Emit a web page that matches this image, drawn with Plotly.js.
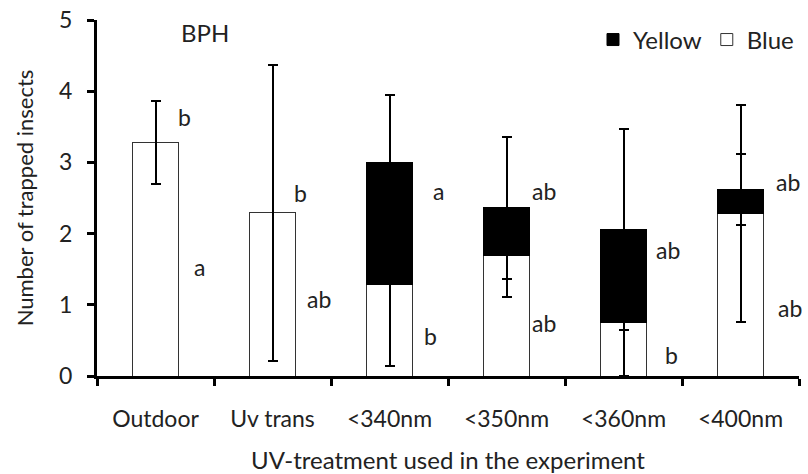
<!DOCTYPE html>
<html>
<head>
<meta charset="utf-8">
<script src="https://cdn.plot.ly/plotly-3.0.1.min.js"></script>
<style>html,body{margin:0;padding:0;background:#fff;}#chart{width:808px;height:474px;}</style>
</head>
<body>
<div id="chart"></div>
<script>
// ---- data ----
const categories = ['Outdoor', 'Uv trans', '<340nm', '<350nm', '<360nm', '<400nm'];
const blueValues = [3.28, 2.29, 1.29, 1.69, 0.75, 2.28];
const blueErrors = [0.58, 2.08, 1.15, 0.58, 0.75, 1.52];
const yellowValues = [null, null, 1.71, 0.67, 1.31, 0.34];
const yellowErrors = [null, null, 0.94, 1.0, 1.41, 0.5];
const upperLetters = ['b', 'b', 'a', 'ab', 'ab', 'ab'];
const lowerLetters = ['a', 'ab', 'b', 'ab', 'b', 'ab'];
const yTicks = [0, 1, 2, 3, 4, 5];

// ---- label placement (layout only) ----
const upperPos = [[0.25, 3.64], [0.24, 2.57], [0.42, 2.60], [0.32, 2.60], [0.38, 1.77], [0.41, 2.73]];
const lowerPos = [[0.38, 1.53], [0.40, 1.08], [0.35, 0.56], [0.32, 0.75], [0.41, 0.29], [0.42, 0.95]];

const FONT = 'Lato, "Open Sans", sans-serif';
const TXT = '#222';

const blueTrace = {
  type: 'bar', name: 'Blue', x: categories, y: blueValues,
  marker: {color: '#ffffff', line: {color: '#333', width: 1}},
  error_y: {type: 'data', array: blueErrors, visible: true, color: '#000', thickness: 2, width: 5}
};
const yellowTrace = {
  type: 'bar', name: 'Yellow', x: categories, y: yellowValues,
  marker: {color: '#000000', line: {color: '#000', width: 1}},
  error_y: {type: 'data', array: yellowErrors, visible: true, color: '#000', thickness: 2, width: 5}
};

const annotations = [];
categories.forEach((c, i) => {
  annotations.push({x: i + upperPos[i][0], y: upperPos[i][1], xref: 'x', yref: 'y', text: upperLetters[i],
    showarrow: false, xanchor: 'center', yanchor: 'middle', font: {family: FONT, size: 23, color: TXT}});
  annotations.push({x: i + lowerPos[i][0], y: lowerPos[i][1], xref: 'x', yref: 'y', text: lowerLetters[i],
    showarrow: false, xanchor: 'center', yanchor: 'middle', font: {family: FONT, size: 23, color: TXT}});
});
annotations.push({x: 0.154, y: 4.83, xref: 'paper', yref: 'y', text: 'BPH', showarrow: false,
  xanchor: 'center', yanchor: 'middle', font: {family: FONT, size: 24, color: TXT}});

const layout = {
  width: 808, height: 474,
  margin: {l: 97, r: 9, t: 20, b: 98},
  paper_bgcolor: '#fff', plot_bgcolor: '#fff',
  barmode: 'stack', bargap: 0.607,
  showlegend: true,
  legend: {orientation: 'h', traceorder: 'reversed', x: 1.0, xanchor: 'right', y: 0.944, yanchor: 'middle',
    font: {family: FONT, size: 24, color: TXT}, bgcolor: 'rgba(0,0,0,0)', itemwidth: 30},
  font: {family: FONT, color: TXT},
  xaxis: {
    type: 'category', range: [-0.5, 5.5], showgrid: false, zeroline: false,
    showline: true, linecolor: '#000', linewidth: 3,
    ticks: 'outside', tickson: 'boundaries', ticklen: 7, tickwidth: 3, tickcolor: '#000',
    ticklabelstandoff: 20,
    tickfont: {family: FONT, size: 23, color: TXT},
    title: {text: 'UV-treatment used in the experiment', font: {family: FONT, size: 24, color: TXT}, standoff: 24}
  },
  yaxis: {
    range: [0, 5], tickvals: yTicks, ticktext: yTicks.map(String),
    showgrid: false, zeroline: false,
    showline: true, linecolor: '#000', linewidth: 3,
    ticks: 'outside', ticklen: 7, tickwidth: 3, tickcolor: '#000',
    ticklabelstandoff: 10,
    tickfont: {family: FONT, size: 23, color: TXT},
    title: {text: 'Number of trapped insects', font: {family: FONT, size: 22, color: TXT}, standoff: 20}
  },
  annotations: annotations
};

Plotly.newPlot('chart', [blueTrace, yellowTrace], layout, {displayModeBar: false, staticPlot: true});
</script>
</body>
</html>
